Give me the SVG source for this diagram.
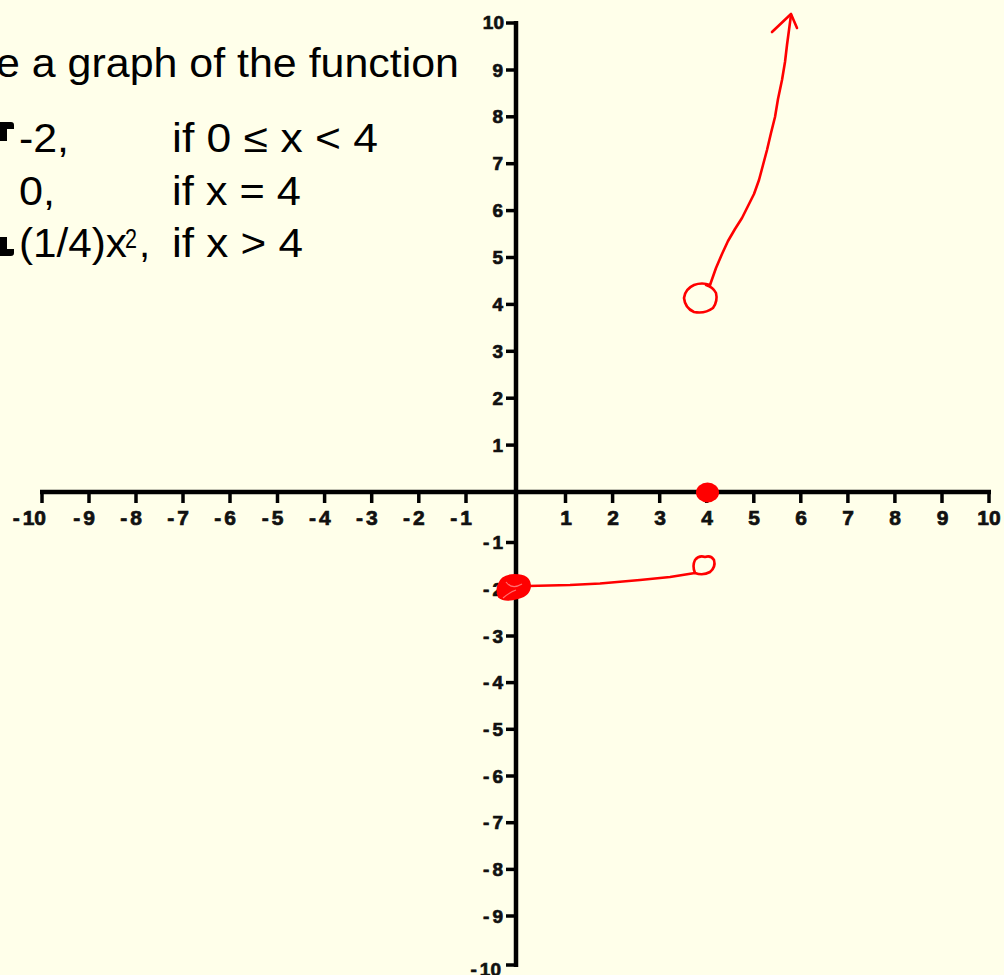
<svg xmlns="http://www.w3.org/2000/svg" width="1004" height="975" viewBox="0 0 1004 975">
<style>
.ax{stroke:#000;stroke-width:4.5;fill:none}
.tk{stroke:#000;stroke-width:3.5}
.xl{font-family:"Liberation Sans",Arial,sans-serif;font-weight:bold;font-size:21px;fill:#111;stroke:#111;stroke-width:0.7;text-anchor:middle}
.xn{font-family:"Liberation Sans",Arial,sans-serif;font-weight:bold;font-size:21px;fill:#111;stroke:#111;stroke-width:0.7;text-anchor:end}
.yl{font-family:"Liberation Sans",Arial,sans-serif;font-weight:bold;font-size:19px;fill:#111;stroke:#111;stroke-width:0.7;text-anchor:end}
.big{font-family:"Liberation Sans",Arial,sans-serif;font-size:40px;fill:#000}
.sup{font-family:"Liberation Sans",Arial,sans-serif;font-size:27px;fill:#000}
.red{stroke:#ff0000;stroke-width:2.6;fill:none;stroke-linecap:round;stroke-linejoin:round}
</style>
<rect width="1004" height="975" fill="#ffffea"/>
<g id="title">
<text class="big" x="-4" y="77" textLength="463" lengthAdjust="spacingAndGlyphs">e a graph of the function</text>
<path d="M0 122 L11 122 Q14 122 14 125 L14 129 L7 129 L7 141 L0 141 Z" fill="#000"/>
<path d="M0 237 L7 237 L7 249 L14 249 L14 253 Q14 256 11 256 L0 256 Z" fill="#000"/>
<text class="big" x="19" y="152" textLength="50" lengthAdjust="spacingAndGlyphs">-2,</text>
<text class="big" x="172" y="152" textLength="206" lengthAdjust="spacingAndGlyphs">if 0 ≤ x &lt; 4</text>
<text class="big" x="19" y="205" textLength="36" lengthAdjust="spacingAndGlyphs">0,</text>
<text class="big" x="172" y="205" textLength="129" lengthAdjust="spacingAndGlyphs">if x = 4</text>
<text class="big" x="19" y="257" textLength="108" lengthAdjust="spacingAndGlyphs">(1/4)x</text>
<text class="sup" x="125" y="248" textLength="12" lengthAdjust="spacingAndGlyphs">2</text>
<text class="big" x="139" y="257">,</text>
<text class="big" x="172" y="257" textLength="131" lengthAdjust="spacingAndGlyphs">if x &gt; 4</text>
</g>
<g id="x-axis">
<line class="ax" x1="40" y1="492" x2="991" y2="492"/>
<g class="tk">
<line x1="42" y1="492" x2="42" y2="503"/><line x1="89" y1="492" x2="89" y2="503"/><line x1="136" y1="492" x2="136" y2="503"/><line x1="183" y1="492" x2="183" y2="503"/><line x1="230" y1="492" x2="230" y2="503"/><line x1="277.5" y1="492" x2="277.5" y2="503"/><line x1="324.6" y1="492" x2="324.6" y2="503"/><line x1="371.7" y1="492" x2="371.7" y2="503"/><line x1="418.8" y1="492" x2="418.8" y2="503"/><line x1="466" y1="492" x2="466" y2="503"/>
<line x1="565.5" y1="492" x2="565.5" y2="503"/><line x1="612.6" y1="492" x2="612.6" y2="503"/><line x1="659.7" y1="492" x2="659.7" y2="503"/><line x1="706.7" y1="492" x2="706.7" y2="503"/><line x1="753.8" y1="492" x2="753.8" y2="503"/><line x1="800.8" y1="492" x2="800.8" y2="503"/><line x1="847.9" y1="492" x2="847.9" y2="503"/><line x1="894.9" y1="492" x2="894.9" y2="503"/><line x1="942" y1="492" x2="942" y2="503"/><line x1="989" y1="492" x2="989" y2="503"/>
</g>
<text class="xn" x="46" y="525">-<tspan dx="3">10</tspan></text><text class="xn" x="95" y="525">-<tspan dx="3">9</tspan></text><text class="xn" x="142" y="525">-<tspan dx="3">8</tspan></text><text class="xn" x="189" y="525">-<tspan dx="3">7</tspan></text><text class="xn" x="236" y="525">-<tspan dx="3">6</tspan></text><text class="xn" x="283.5" y="525">-<tspan dx="3">5</tspan></text><text class="xn" x="330.6" y="525">-<tspan dx="3">4</tspan></text><text class="xn" x="377.7" y="525">-<tspan dx="3">3</tspan></text><text class="xn" x="424.8" y="525">-<tspan dx="3">2</tspan></text><text class="xn" x="472" y="525">-<tspan dx="3">1</tspan></text>
<text class="xl" x="566" y="525">1</text><text class="xl" x="613" y="525">2</text><text class="xl" x="660" y="525">3</text><text class="xl" x="707" y="525">4</text><text class="xl" x="754" y="525">5</text><text class="xl" x="801" y="525">6</text><text class="xl" x="848" y="525">7</text><text class="xl" x="895" y="525">8</text><text class="xl" x="942.5" y="525">9</text><text class="xl" x="989" y="525">10</text>
</g>
<g id="y-axis">
<line class="ax" x1="516" y1="21" x2="516" y2="967"/>
<g class="tk">
<line x1="506" y1="23" x2="516" y2="23"/><line x1="506" y1="70" x2="516" y2="70"/><line x1="506" y1="116.8" x2="516" y2="116.8"/><line x1="506" y1="163.7" x2="516" y2="163.7"/><line x1="506" y1="210.6" x2="516" y2="210.6"/><line x1="506" y1="257.5" x2="516" y2="257.5"/><line x1="506" y1="304.4" x2="516" y2="304.4"/><line x1="506" y1="351.3" x2="516" y2="351.3"/><line x1="506" y1="398.2" x2="516" y2="398.2"/><line x1="506" y1="445.1" x2="516" y2="445.1"/>
<line x1="506" y1="542.5" x2="516" y2="542.5"/><line x1="506" y1="589.2" x2="516" y2="589.2"/><line x1="506" y1="636" x2="516" y2="636"/><line x1="506" y1="682.6" x2="516" y2="682.6"/><line x1="506" y1="729.3" x2="516" y2="729.3"/><line x1="506" y1="776" x2="516" y2="776"/><line x1="506" y1="822.7" x2="516" y2="822.7"/><line x1="506" y1="869.4" x2="516" y2="869.4"/><line x1="506" y1="916" x2="516" y2="916"/><line x1="506" y1="965" x2="516" y2="965"/>
</g>
<text class="yl" x="504" y="29">10</text><text class="yl" x="503" y="77">9</text><text class="yl" x="503" y="123">8</text><text class="yl" x="503" y="170">7</text><text class="yl" x="503" y="217">6</text><text class="yl" x="503" y="264">5</text><text class="yl" x="503" y="311">4</text><text class="yl" x="503" y="358">3</text><text class="yl" x="503" y="405">2</text><text class="yl" x="503" y="452">1</text>
<text class="yl" x="503" y="549">-<tspan dx="3">1</tspan></text><text class="yl" x="503" y="596">-<tspan dx="3">2</tspan></text><text class="yl" x="503" y="643">-<tspan dx="3">3</tspan></text><text class="yl" x="503" y="689">-<tspan dx="3">4</tspan></text><text class="yl" x="503" y="736">-<tspan dx="3">5</tspan></text><text class="yl" x="503" y="783">-<tspan dx="3">6</tspan></text><text class="yl" x="503" y="829">-<tspan dx="3">7</tspan></text><text class="yl" x="503" y="876">-<tspan dx="3">8</tspan></text><text class="yl" x="503" y="923">-<tspan dx="3">9</tspan></text><text class="yl" x="501" y="976">-<tspan dx="3">10</tspan></text>
</g>
<g id="sketch">
<ellipse cx="707.5" cy="492.5" rx="11.5" ry="10" fill="#ff0000"/>
<path d="M499 584 Q502 575 515 575 Q529 575 530 585 Q530 595 518 598 Q505 602 499 597 Q496 590 499 584 Z" fill="#ff0000" stroke="#ff0000" stroke-width="2"/>
<path d="M503 598 Q510 592 516 590 M506 582 Q512 590 522 584" fill="none" stroke="#ff7070" stroke-width="1.2"/>
<path class="red" d="M528 586 L570 585 L600 583.5 L640 580 L670 577 L695 573"/>
<path class="red" d="M695 573 Q692 566 695 560 Q699 555 705 557 Q711 555 714 560 Q716 567 710 572 Q703 576 695 573"/>
<path class="red" d="M710 285 Q702 282 694 285 Q685 289 684 298 Q685 308 694 312 Q705 314 713 308 Q718 301 716 293 Q713 287 706 285"/>
<polyline class="red" points="710,285 716,268 722,254 728,241 735,229 742,218 748,206 754,194 759,180 763,165 767,150 771,133 775,117 778,99 782,80 785,62 787,45 789,30 791,15"/>
<path class="red" d="M772 32 L791 14 L797 28"/>
</g>
</svg>
